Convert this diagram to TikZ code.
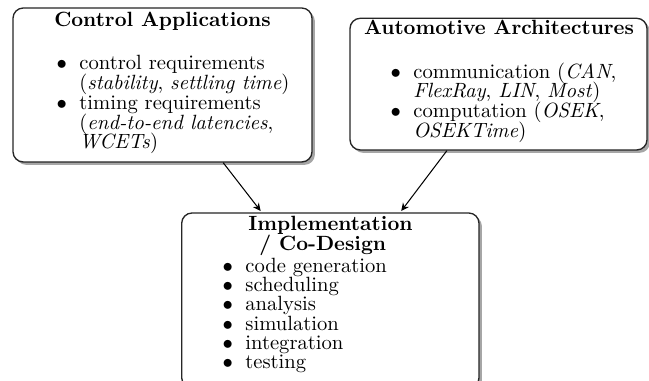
\documentclass[tikz,border=0pt]{standalone}
\usetikzlibrary{shadows,fit,calc,arrows.meta}
\tikzset{
  box/.style={draw=black!85, line width=0.65pt, rounded corners=5pt, fill=white, inner sep=0pt,
    drop shadow={shadow xshift=1.4pt, shadow yshift=-1.4pt, fill=black!35, opacity=1}},
  ttl/.style={anchor=base, font=\bfseries, inner sep=0pt},
  ln/.style={anchor=base west, inner sep=0pt},
  conn/.style={-{Stealth[length=3.8pt,width=3.6pt,inset=1.2pt]}, line width=0.5pt, shorten >=0.8pt}
}
\newcommand{\itm}{\llap{$\bullet$\hspace{6pt}}}
\begin{document}
\begin{tikzpicture}[x=0.485pt,y=-0.485pt]
\useasboundingbox (0,0) rectangle (649,381);
\clip (0,0) rectangle (649,381);
% boxes
\node[box, fit={(13,8) (312,162)}] (ca) {};
\node[box, fit={(350,18.3) (647,150)}] (aa) {};
\node[box, fit={(181.7,213) (479,388)}] (impl) {};
% left box text
\node[ttl] (cat) at (162.5,26.7) {Control Applications};
\node[ln] (ca1) at (79,70) {\itm control requirements};
\node[ln] (ca2) at (79,90) {(\textit{stability}, \textit{settling time})};
\node[ln] (ca3) at (79,109.5) {\itm timing requirements};
\node[ln] (ca4) at (79,129.5) {(\textit{end-to-end latencies},};
\node[ln] (ca5) at (79,149) {\textit{WCETs})};
% right box text
\node[ttl] (aat) at (499,35) {Automotive Architectures};
\node[ln] (aa1) at (413,78.3) {\itm communication (\textit{CAN},};
\node[ln] (aa2) at (413,98) {\textit{FlexRay}, \textit{LIN}, \textit{Most})};
\node[ln] (aa3) at (413,117.5) {\itm computation (\textit{OSEK},};
\node[ln] (aa4) at (413,137.3) {\textit{OSEKTime})};
% bottom box text
\node[ttl] (it1) at (330.5,230.7) {Implementation};
\node[ttl, anchor=base west] (it2) at (259,250.7) {/ Co-Design};
\node[ln] (i1) at (245,272.7) {\itm code generation};
\node[ln] (i2) at (245,291.8) {\itm scheduling};
\node[ln] (i3) at (245,311) {\itm analysis};
\node[ln] (i4) at (245,330.2) {\itm simulation};
\node[ln] (i5) at (245,349.4) {\itm integration};
\node[ln] (i6) at (245,368.5) {\itm testing};
% connectors
\draw[conn] ($(ca.south west)!0.702!(ca.south east)$) -- ($(impl.north west)!0.27!(impl.north east)$);
\draw[conn] ($(aa.south west)!0.327!(aa.south east)$) -- ($(impl.north west)!0.734!(impl.north east)$);
\end{tikzpicture}
\end{document}
